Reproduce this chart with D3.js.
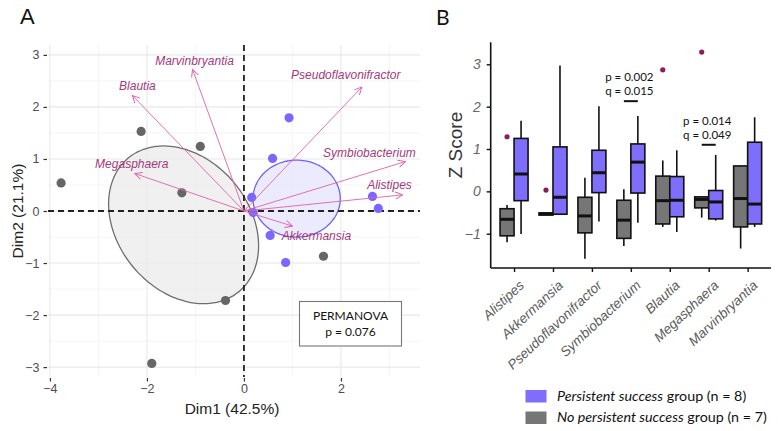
<!DOCTYPE html>
<html>
<head>
<meta charset="utf-8">
<script src="https://cdn.jsdelivr.net/npm/d3@7"></script>
<style>
  html, body { margin: 0; padding: 0; background: #fff; }
  svg { display: block; }
</style>
</head>
<body>
<svg id="chart" width="778" height="431"></svg>
<script>
// ---------------- DATA ----------------
// Panel A: PCA individuals
const noSuccessX = [-3.77, -2.12, -0.90, -1.28, 1.64, -0.38, -1.90];
const noSuccessY = [0.54, 1.53, 1.24, 0.35, -0.87, -1.72, -2.93];
const successX = [0.93, 0.59, 0.16, 2.65, 2.77, 0.19, 0.54, 0.86];
const successY = [1.79, 1.01, 0.26, 0.28, 0.05, -0.03, -0.47, -0.99];
// Panel A: variable loadings (arrows)
const varNames = ["Marvinbryantia", "Blautia", "Pseudoflavonifractor", "Symbiobacterium", "Alistipes", "Megasphaera", "Akkermansia"];
const varX = [-1.06, -2.30, 2.43, 3.33, 3.27, -2.25, 1.00];
const varY = [2.72, 2.22, 2.38, 0.95, 0.31, 0.72, -0.29];
const xTicksA = [-4, -2, 0, 2];
const yTicksA = [-3, -2, -1, 0, 1, 2, 3];
const permanovaText = ["PERMANOVA", "p = 0.076"];

// Panel B: boxplot summaries (Z score)
const taxa = ["Alistipes", "Akkermansia", "Pseudoflavonifractor", "Symbiobacterium", "Blautia", "Megasphaera", "Marvinbryantia"];
const noMin = [-1.20, -0.56, -1.59, -1.29, -0.84, -0.62, -1.35];
const noQ1  = [-1.05, -0.56, -0.98, -1.11, -0.77, -0.39, -0.84];
const noMed = [-0.66, -0.53, -0.58, -0.68, -0.22, -0.19, -0.17];
const noQ3  = [-0.41, -0.51, -0.14, -0.21, 0.36, -0.13, 0.60];
const noMax = [-0.32, -0.51, 0.32, 0.05, 0.73, -0.13, 0.61];
const noOut = [1.29, 0.03, null, null, 2.87, 3.29, null];
const psMin = [-1.01, -0.54, -0.71, -0.74, -0.96, -0.69, -0.84];
const psQ1  = [-0.22, -0.54, -0.03, -0.04, -0.60, -0.65, -0.77];
const psMed = [0.41, -0.14, 0.44, 0.69, -0.21, -0.25, -0.30];
const psQ3  = [1.25, 1.05, 0.97, 1.12, 0.35, 0.02, 1.16];
const psMax = [1.67, 2.97, 2.01, 1.78, 0.97, 0.86, 1.75];
const yTicksB = [-1, 0, 1, 2, 3];
const annotTaxa = ["Symbiobacterium", "Megasphaera"];
const annotP = ["p = 0.002", "p = 0.014"];
const annotQ = ["q = 0.015", "q = 0.049"];
const annotBar = [2.13, 1.10];
const legendItalic = ["Persistent success", "No persistent success"];
const legendRest = [" group (n = 8)", " group (n = 7)"];

// ---------------- STYLE ----------------
const BLUE = "#7F6DFB", GRAY = "#767676";
const PT_BLUE = "#7B66FF", PT_GRAY = "#666666";
const ARROW = "#DD64A4", LABEL = "#A5397A";
const CAL = "Lato, 'Open Sans', sans-serif";
const ARIAL = "'Liberation Sans', Arial, sans-serif";

const svg = d3.select("#chart");
const defs = svg.append("defs");
defs.append("marker").attr("id", "arr").attr("viewBox", "0 0 10 10")
  .attr("refX", 9).attr("refY", 5).attr("markerWidth", 9).attr("markerHeight", 9)
  .attr("markerUnits", "userSpaceOnUse").attr("orient", "auto")
  .append("path").attr("d", "M1,1 L9,5 L1,9").attr("fill", "none")
  .attr("stroke", ARROW).attr("stroke-width", 1.1);

// =============== PANEL A ===============
const PL = 48, PR = 420, PT = 45, PB = 377;
const xA = d3.scaleLinear().domain([-4.04, 3.63]).range([PL, PR]);
const yA = d3.scaleLinear().domain([-3.19, 3.19]).range([PB, PT]);
const gA = svg.append("g");

// grid (minor then major)
const xMinor = [-3, -1, 1, 3], yMinor = [-2.5, -1.5, -0.5, 0.5, 1.5, 2.5];
gA.selectAll(".vmin").data(xMinor).join("line")
  .attr("x1", d => xA(d)).attr("x2", d => xA(d)).attr("y1", PT).attr("y2", PB)
  .attr("stroke", "#F3F3F3").attr("stroke-width", 0.8);
gA.selectAll(".hmin").data(yMinor).join("line")
  .attr("y1", d => yA(d)).attr("y2", d => yA(d)).attr("x1", PL).attr("x2", PR)
  .attr("stroke", "#F3F3F3").attr("stroke-width", 0.8);
gA.selectAll(".vmaj").data(xTicksA).join("line")
  .attr("x1", d => xA(d)).attr("x2", d => xA(d)).attr("y1", PT).attr("y2", PB)
  .attr("stroke", "#E8E8E8").attr("stroke-width", 1.1);
gA.selectAll(".hmaj").data(yTicksA).join("line")
  .attr("y1", d => yA(d)).attr("y2", d => yA(d)).attr("x1", PL).attr("x2", PR)
  .attr("stroke", "#E8E8E8").attr("stroke-width", 1.1);

// confidence ellipses computed from the points
function ellipse(xs, ys) {
  const n = xs.length;
  const mx = d3.mean(xs), my = d3.mean(ys);
  let sxx = 0, syy = 0, sxy = 0;
  for (let i = 0; i < n; i++) {
    sxx += (xs[i] - mx) ** 2; syy += (ys[i] - my) ** 2; sxy += (xs[i] - mx) * (ys[i] - my);
  }
  sxx /= n - 1; syy /= n - 1; sxy /= n - 1;
  const tr = sxx + syy, det = sxx * syy - sxy * sxy;
  const l1 = tr / 2 + Math.sqrt(tr * tr / 4 - det), l2 = tr / 2 - Math.sqrt(tr * tr / 4 - det);
  const th = Math.atan2(l1 - sxx, sxy);
  const k = Math.sqrt(5.991 / n);
  const pts = d3.range(0, 360, 3).map(a => {
    const t = a * Math.PI / 180;
    const u = k * Math.sqrt(l1) * Math.cos(t), v = k * Math.sqrt(l2) * Math.sin(t);
    return [xA(mx + u * Math.cos(th) - v * Math.sin(th)), yA(my + u * Math.sin(th) + v * Math.cos(th))];
  });
  return d3.line().curve(d3.curveCardinalClosed)(pts);
}
gA.append("path").attr("d", ellipse(noSuccessX, noSuccessY))
  .attr("fill", "#EBEBEB").attr("fill-opacity", 0.75).attr("stroke", "#6E6E6E").attr("stroke-width", 1.3);
gA.append("path").attr("d", ellipse(successX, successY))
  .attr("fill", "#E6E3FC").attr("fill-opacity", 0.75).attr("stroke", "#7563F0").attr("stroke-width", 1.3);

// zero reference lines
gA.append("line").attr("x1", PL).attr("x2", PR).attr("y1", yA(0)).attr("y2", yA(0))
  .attr("stroke", "#222").attr("stroke-width", 1.8).attr("stroke-dasharray", "6,4");
gA.append("line").attr("x1", xA(0)).attr("x2", xA(0)).attr("y1", PT).attr("y2", PB)
  .attr("stroke", "#222").attr("stroke-width", 1.8).attr("stroke-dasharray", "6,4");

// points
gA.selectAll(".pg").data(d3.zip(noSuccessX, noSuccessY)).join("circle")
  .attr("cx", d => xA(d[0])).attr("cy", d => yA(d[1])).attr("r", 4.6).attr("fill", PT_GRAY);
gA.selectAll(".pb").data(d3.zip(successX, successY)).join("circle")
  .attr("cx", d => xA(d[0])).attr("cy", d => yA(d[1])).attr("r", 4.6).attr("fill", PT_BLUE);

// arrows
const labelOffset = {
  Marvinbryantia: [2, -8], Blautia: [5, -9], Pseudoflavonifractor: [-16, -11],
  Symbiobacterium: [-36, -8], Alistipes: [-13, -9], Megasphaera: [-3, -9], Akkermansia: [24, 11]
};
const vars = varNames.map((n, i) => ({ name: n, x: varX[i], y: varY[i] }));
gA.selectAll(".arrow").data(vars).join("line")
  .attr("x1", xA(0)).attr("y1", yA(0)).attr("x2", d => xA(d.x)).attr("y2", d => yA(d.y))
  .attr("stroke", ARROW).attr("stroke-width", 0.9).attr("marker-end", "url(#arr)");
gA.selectAll(".vlab").data(vars).join("text")
  .attr("x", d => xA(d.x) + labelOffset[d.name][0]).attr("y", d => yA(d.y) + labelOffset[d.name][1])
  .attr("text-anchor", "middle").attr("dominant-baseline", "middle")
  .attr("font-family", ARIAL).attr("font-style", "italic").attr("font-size", 12)
  .attr("fill", LABEL).text(d => d.name);

// axes A
const axL = gA.append("g").attr("transform", `translate(${PL - 1},0)`)
  .call(d3.axisLeft(yA).tickValues(yTicksA).tickSize(3.5).tickPadding(4).tickFormat(d3.format("d")));
const axB = gA.append("g").attr("transform", `translate(0,${PB + 1})`)
  .call(d3.axisBottom(xA).tickValues(xTicksA).tickSize(3.5).tickPadding(3).tickFormat(d3.format("d")));
[axL, axB].forEach(a => {
  a.select(".domain").remove();
  a.selectAll("line").attr("stroke", "#333").attr("stroke-width", 1.2);
  a.selectAll("text").attr("font-family", ARIAL).attr("font-size", 12.5).attr("fill", "#4D4D4D");
});
gA.append("text").attr("x", 232).attr("y", 414).attr("text-anchor", "middle")
  .attr("font-family", ARIAL).attr("font-size", 15.5).attr("fill", "#222").text("Dim1 (42.5%)");
gA.append("text").attr("transform", "translate(19,211) rotate(-90)").attr("text-anchor", "middle")
  .attr("dominant-baseline", "middle")
  .attr("font-family", ARIAL).attr("font-size", 15.5).attr("fill", "#222").text("Dim2 (21.1%)");

// PERMANOVA box
gA.append("rect").attr("x", 299.5).attr("y", 301.5).attr("width", 102).attr("height", 44.5)
  .attr("fill", "#fff").attr("stroke", "#777").attr("stroke-width", 1.1);
gA.selectAll(".perm").data(permanovaText).join("text")
  .attr("x", 350.5).attr("y", (d, i) => 317 + i * 16).attr("text-anchor", "middle")
  .attr("dominant-baseline", "middle").attr("font-family", CAL).attr("font-size", 12)
  .attr("fill", "#111").text(d => d);

svg.append("text").attr("x", 20).attr("y", 24).attr("font-family", ARIAL).attr("font-size", 22)
  .attr("fill", "#111").text("A");

// =============== PANEL B ===============
const xB = d3.scalePoint().domain(taxa).range([490.7, 771]).padding(0.6);
const yB = d3.scaleLinear().domain([-1.81, 3.52]).range([268, 42.3]);
const gB = svg.append("g");
const BW = 14;

const boxes = [];
taxa.forEach((t, i) => {
  boxes.push({ t, side: -1, fill: GRAY, min: noMin[i], q1: noQ1[i], med: noMed[i], q3: noQ3[i], max: noMax[i], out: noOut[i] });
  boxes.push({ t, side: 1, fill: BLUE, min: psMin[i], q1: psQ1[i], med: psMed[i], q3: psQ3[i], max: psMax[i], out: null });
});
const bx0 = d => d.side < 0 ? xB(d.t) - BW : xB(d.t);
const bc = d => bx0(d) + BW / 2;

gB.selectAll(".wh").data(boxes).join("line")
  .attr("x1", bc).attr("x2", bc).attr("y1", d => yB(d.max)).attr("y2", d => yB(d.min))
  .attr("stroke", "#111").attr("stroke-width", 1.6);
gB.selectAll(".bx").data(boxes).join("rect")
  .attr("x", bx0).attr("width", BW)
  .attr("y", d => yB(d.q3)).attr("height", d => Math.max(yB(d.q1) - yB(d.q3), 1))
  .attr("fill", d => d.fill).attr("stroke", "#111").attr("stroke-width", 1.6);
gB.selectAll(".md").data(boxes).join("line")
  .attr("x1", bx0).attr("x2", d => bx0(d) + BW).attr("y1", d => yB(d.med)).attr("y2", d => yB(d.med))
  .attr("stroke", "#111").attr("stroke-width", 3);
gB.selectAll(".out").data(boxes.filter(d => d.out !== null)).join("circle")
  .attr("cx", bc).attr("cy", d => yB(d.out)).attr("r", 2.6).attr("fill", "#8C1D5C");

// axes B
const ayB = gB.append("g").attr("transform", "translate(490.7,0)")
  .call(d3.axisLeft(yB).tickValues(yTicksB).tickSize(4).tickPadding(6).tickFormat(d3.format("d")));
ayB.select(".domain").attr("d", `M0,${yB(3.52)}V${yB(-1.81)}`).attr("stroke", "#111").attr("stroke-width", 1.6);
ayB.selectAll("line").attr("stroke", "#111").attr("stroke-width", 1.4);
ayB.selectAll("text").attr("font-family", ARIAL).attr("font-style", "italic").attr("font-size", 14).attr("fill", "#666");
const axB2 = gB.append("g").attr("transform", "translate(0,268)")
  .call(d3.axisBottom(xB).tickSize(4).tickFormat(""));
axB2.select(".domain").attr("d", "M490.7,0H771").attr("stroke", "#111").attr("stroke-width", 1.6);
axB2.selectAll("line").attr("stroke", "#111").attr("stroke-width", 1.4);
gB.selectAll(".xl").data(taxa).join("text")
  .attr("transform", d => `translate(${xB(d) + 4},${279}) rotate(-43)`)
  .attr("text-anchor", "end").attr("dy", "0.75em")
  .attr("font-family", ARIAL).attr("font-style", "italic").attr("font-size", 13.5)
  .attr("fill", "#5A5A5A").text(d => d);
gB.append("text").attr("transform", "translate(457,145) rotate(-90)").attr("text-anchor", "middle")
  .attr("dominant-baseline", "middle").attr("font-family", ARIAL).attr("font-size", 19)
  .attr("fill", "#333").text("Z Score");

// annotations
annotTaxa.forEach((t, i) => {
  const cx = xB(t), by = yB(annotBar[i]);
  gB.append("line").attr("x1", cx - 7).attr("x2", cx + 7).attr("y1", by).attr("y2", by)
    .attr("stroke", "#111").attr("stroke-width", 2);
  gB.append("text").attr("x", cx - 1.5).attr("y", by - 23).attr("text-anchor", "middle")
    .attr("dominant-baseline", "middle").attr("font-family", CAL).attr("font-size", 11.5)
    .attr("fill", "#111").text(annotP[i]);
  gB.append("text").attr("x", cx - 1.5).attr("y", by - 9).attr("text-anchor", "middle")
    .attr("dominant-baseline", "middle").attr("font-family", CAL).attr("font-size", 11.5)
    .attr("fill", "#111").text(annotQ[i]);
});

svg.append("text").attr("x", 436).attr("y", 25).attr("font-family", CAL).attr("font-size", 21)
  .attr("fill", "#111").text("B");

// legend
const legFills = [BLUE, GRAY];
legendItalic.forEach((lab, i) => {
  const y = 396.5 + i * 21.5;
  svg.append("rect").attr("x", 525.5).attr("y", y - 6.5).attr("width", 21).attr("height", 12.5)
    .attr("fill", legFills[i]);
  const t = svg.append("text").attr("x", 557).attr("y", y).attr("dominant-baseline", "middle")
    .attr("font-family", CAL).attr("font-size", 14.3).attr("fill", "#111");
  t.append("tspan").attr("font-style", "italic").text(lab);
  t.append("tspan").text(legendRest[i]);
});
</script>
</body>
</html>
